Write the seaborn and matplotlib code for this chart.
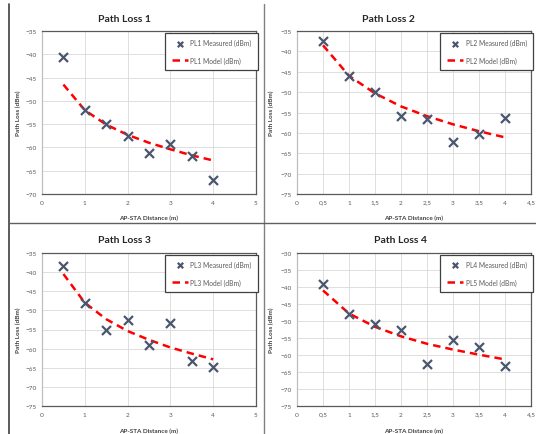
import matplotlib
matplotlib.use("Agg")
import matplotlib.pyplot as plt
from matplotlib.lines import Line2D
import seaborn as sns
import pandas as pd

sns.set_theme(style="whitegrid")
plt.rcParams['font.family'] = ['Lato', 'DejaVu Sans']

# Datos
distancia = [0.5, 1.0, 1.5, 2.0, 2.5, 3.0, 3.5, 4.0]

pl1_medido = [-40.5, -52.0, -55.0, -57.5, -61.2, -59.3, -61.8, -67.0]
pl1_modelo = [-46.5, -52.0, -55.1, -57.3, -59.0, -60.4, -61.7, -62.8]

pl2_medido = [-37.5, -46.0, -50.0, -55.8, -56.5, -62.3, -60.2, -56.3]
pl2_modelo = [-38.5, -46.0, -50.3, -53.5, -55.9, -57.9, -59.6, -61.1]

pl3_medido = [-38.5, -48.0, -55.0, -52.4, -59.0, -53.3, -63.3, -64.8]
pl3_modelo = [-40.5, -48.0, -52.3, -55.4, -57.7, -59.7, -61.3, -62.8]

pl4_medido = [-39.0, -47.8, -50.8, -52.5, -62.5, -55.5, -57.5, -63.3]
pl4_modelo = [-41.0, -47.8, -51.7, -54.5, -56.7, -58.4, -59.9, -61.3]

titulos = ["Path Loss 1", "Path Loss 2", "Path Loss 3", "Path Loss 4"]
etiq_medido = ["PL1 Measured (dBm)", "PL2 Measured (dBm)", "PL3 Measured (dBm)", "PL4 Measured (dBm)"]
etiq_modelo = ["PL1 Model (dBm)", "PL2 Model (dBm)", "PL3 Model (dBm)", "PL5 Model (dBm)"]
x_lims = [(0, 5), (0, 4.5), (0, 5), (0, 4.5)]
x_paso = [1, 0.5, 1, 0.5]
y_lims = [(-70, -35), (-75, -35), (-75, -35), (-75, -30)]

W, H = 536, 435
fig = plt.figure(figsize=(W / 100, H / 100), dpi=100)

# posiciones en pixeles: (izq, arriba, der, abajo)
cajas = [(42, 32, 256, 195), (297, 32, 531, 195), (42, 254, 256, 407), (297, 254, 531, 407)]
pos_titulo = [(125, 19), (388, 19), (124, 241), (400, 241)]
ylabel_x = [21, 274, 21, 274]
xlabel_y = [216, 216, 429, 429]

color_x = "#4A5670"
gris_txt = "#595959"


def fmt_coma(v, pos=None):
    if abs(v - round(v)) < 1e-9:
        return f"{int(round(v))}"
    return f"{v:.1f}".replace(".", ",")


medidos = [pl1_medido, pl2_medido, pl3_medido, pl4_medido]
modelos = [pl1_modelo, pl2_modelo, pl3_modelo, pl4_modelo]

for i in range(4):
    l, t, r, b = cajas[i]
    ax = fig.add_axes([l / W, 1 - b / H, (r - l) / W, (b - t) / H])
    df = pd.DataFrame({"d": distancia, "med": medidos[i], "mod": modelos[i]})

    sns.lineplot(data=df, x="d", y="mod", ax=ax, color="#FF0000", linestyle=(0, (3, 2)),
                 linewidth=1.8, label=etiq_modelo[i], zorder=2)
    sns.scatterplot(data=df, x="d", y="med", ax=ax, marker="x", s=42, linewidth=1.6,
                    color=color_x, label=etiq_medido[i], zorder=3)

    x0, x1 = x_lims[i]
    ax.set_xlim(x0, x1)
    ax.set_ylim(*y_lims[i])
    n = int(round((x1 - x0) / x_paso[i]))
    ax.set_xticks([x0 + k * x_paso[i] for k in range(n + 1)])
    ax.set_yticks(list(range(y_lims[i][0], y_lims[i][1] + 1, 5)))
    ax.xaxis.set_major_formatter(plt.FuncFormatter(fmt_coma))
    ax.tick_params(axis="both", length=0, labelsize=4.6, colors=gris_txt, pad=4)
    ax.grid(True, color="#D9D9D9", linewidth=0.6)
    ax.set_facecolor("white")
    for lado in ["top", "right", "bottom"]:
        ax.spines[lado].set_color("#595959")
        ax.spines[lado].set_linewidth(0.9)
    ax.spines["left"].set_color("#BFBFBF")
    ax.spines["left"].set_linewidth(0.9)

    ax.set_xlabel("AP-STA Distance (m)", fontsize=4.6, fontweight="bold", color="#404040")
    ax.set_ylabel("Path Loss (dBm)", fontsize=4.6, fontweight="bold", color="#404040")
    ax.xaxis.set_label_coords(0.5, (b - xlabel_y[i]) / (b - t))
    ax.yaxis.set_label_coords((ylabel_x[i] - l) / (r - l), 0.5)

    h, lab = ax.get_legend_handles_labels()
    leg = ax.legend(h[::-1], lab[::-1], loc="upper right", bbox_to_anchor=(1.01, 0.99),
                    fontsize=4.8, frameon=True, fancybox=False, framealpha=1,
                    edgecolor="#404040", labelspacing=1.5, handlelength=2.4,
                    borderpad=1.0, handletextpad=0.4, borderaxespad=0, markerscale=0.6)
    leg.get_frame().set_linewidth(0.9)
    for txt in leg.get_texts():
        txt.set_color(gris_txt)

    fig.text(pos_titulo[i][0] / W, 1 - pos_titulo[i][1] / H, titulos[i],
             ha="center", va="center", fontsize=7.5, fontweight="bold", color="#262626")

# lineas de separacion
fig.add_artist(Line2D([9 / W, 9 / W], [0, 1 - 5 / H], transform=fig.transFigure,
                      color="#404040", linewidth=1.2))
fig.add_artist(Line2D([264 / W, 264 / W], [0, 1 - 5 / H], transform=fig.transFigure,
                      color="#808080", linewidth=1.0))
fig.add_artist(Line2D([9 / W, 1], [1 - 224 / H, 1 - 224 / H], transform=fig.transFigure,
                      color="#606060", linewidth=1.0))

fig.savefig("out.png", dpi=100, facecolor="white")
